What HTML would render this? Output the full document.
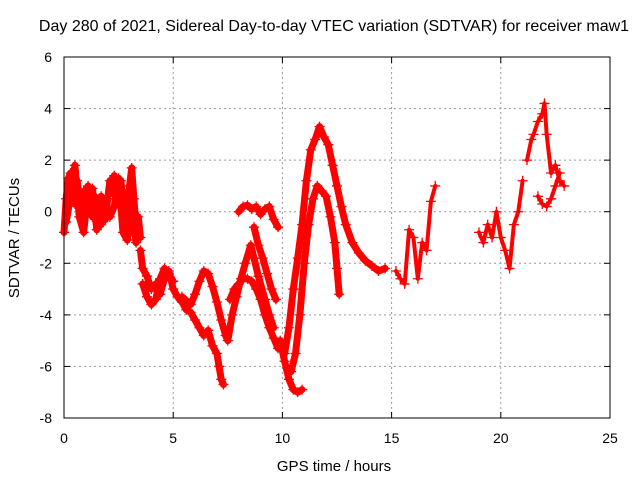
<!DOCTYPE html>
<html><head><meta charset="utf-8"><style>
html,body{margin:0;padding:0;background:#fff;}
svg{display:block;font-family:"Liberation Sans",sans-serif;}
</style></head><body>
<svg id="chart" width="640" height="480" viewBox="0 0 640 480">
<rect width="640" height="480" fill="#fff"/>
<text x="334" y="31" font-size="16" text-anchor="middle" fill="#000">Day 280 of 2021, Sidereal Day-to-day VTEC variation (SDTVAR) for receiver maw1</text>
<text x="334" y="471" font-size="15" text-anchor="middle">GPS time / hours</text>
<text transform="translate(19,238) rotate(-90)" font-size="15" text-anchor="middle">SDTVAR / TECUs</text>
<g id="grid"></g><g id="ticks"></g><g id="marks"></g>
<rect x="64" y="57" width="546" height="361" fill="none" stroke="#000" stroke-width="1"/>
</svg>
<script>
const xTicks=[0,5,10,15,20,25];
const yTicks=[-8,-6,-4,-2,0,2,4,6];
const s1t=[0,0.1,0.2,0.3,0.4,0.5,0.6,0.7,0.8,0.9,1.0,1.1,1.2,1.3,1.4,1.5,1.6,1.7,1.8,1.9,2.0,2.1,2.2,2.3,2.4,2.5,2.6,2.7,2.8,2.9,3.0,3.1,3.2,3.3,3.4,3.5];
const s1v=[-0.8,0.5,1.3,1.5,1.0,0.3,1.2,0.6,-0.3,0.8,0.2,1.0,0.4,-0.2,0.6,0,0.3,-0.5,0.2,-0.3,0.5,1.2,0.8,1.4,0.6,0.9,1.2,0.5,-0.3,0.3,1.0,1.7,0.5,-0.6,-0.2,-1.0];
const s1bt=[0.1,0.3,0.5,0.7,0.9,1.1,1.3,1.5,1.7,1.9,2.1,2.3,2.5,2.7,2.9,3.1,3.3];
const s1bv=[-0.4,0.6,1.8,-0.2,-0.8,0.8,0.9,-0.7,0.6,0,-0.2,0.2,1.3,-0.8,-1.1,0.2,-1.2];
const s2t=[3.5,3.6,3.8,4.0,4.2,4.4,4.6,4.8,5.0,5.2,5.4,5.6,5.8,6.0,6.2,6.4,6.6,6.8,7.0,7.1,7.2,7.3];
const s2v=[-1.5,-2.2,-2.5,-3.0,-2.8,-3.2,-2.6,-2.3,-3.0,-3.3,-3.5,-3.8,-3.9,-4.2,-4.5,-4.8,-4.6,-5.2,-5.5,-6.0,-6.5,-6.7];
const s2bt=[3.6,3.8,4.0,4.2,4.4,4.6,4.8,5.0];
const s2bv=[-2.8,-3.3,-3.6,-3.4,-2.6,-2.2,-2.4,-2.7];
const s3t=[5.4,5.8,6.0,6.2,6.4,6.6,6.8,7.0,7.2,7.4,7.5,7.7,7.9,8.1,8.3,8.55,8.7,8.9,9.2,9.4,9.6];
const s3v=[-3.3,-3.6,-3.2,-2.7,-2.3,-2.4,-2.9,-3.5,-4.2,-4.8,-5.0,-4.0,-3.3,-2.6,-2.0,-1.3,-1.8,-2.5,-3.4,-4.0,-4.5];
const s4t=[7.6,7.8,8.0,8.2,8.4,8.6,8.8,9.0,9.2,9.4,9.6,9.8];
const s4v=[-3.4,-3.0,-2.8,-2.6,-2.6,-2.7,-3.0,-3.4,-4.0,-4.5,-4.9,-5.3];
const s5t=[8.0,8.2,8.4,8.6,8.8,9.0,9.2,9.4,9.6,9.8];
const s5v=[0.0,0.2,0.25,0.1,0.2,-0.1,0.1,0.2,-0.3,-0.6];
const s6t=[8.7,8.9,9.1,9.3,9.5,9.7];
const s6v=[-0.6,-1.3,-1.8,-2.4,-3.0,-3.4];
const s7t=[9.9,10.1,10.3,10.5,10.7,10.9];
const s7v=[-5.0,-5.8,-6.5,-6.9,-7.0,-6.9];
const s8t=[10.1,10.3,10.5,10.7,10.9,11.1,11.3,11.5,11.7,11.9,12.1,12.3,12.5,12.7,12.9,13.2,13.5,13.8,14.1,14.4,14.7];
const s8v=[-5.5,-4.5,-3.0,-1.8,-0.5,1.2,2.4,2.8,3.3,2.9,2.6,1.8,1.0,0.2,-0.5,-1.2,-1.6,-1.9,-2.1,-2.3,-2.2];
const s9t=[10.4,10.6,10.8,11.0,11.2,11.4,11.6,11.8,12.0,12.2,12.4,12.5,12.6];
const s9v=[-6.2,-5.5,-4.0,-2.0,-0.5,0.5,1.0,0.8,0.6,-0.2,-1.2,-2.2,-3.2];
const s10t=[15.2,15.4,15.6,15.8,16.0,16.2,16.4,16.6,16.8,17.0];
const s10v=[-2.3,-2.6,-2.8,-0.7,-1.0,-2.6,-1.2,-1.5,0.4,1.0];
const s11t=[19.0,19.2,19.4,19.6,19.8,20.0,20.2,20.4,20.6,20.8,21.0];
const s11v=[-0.8,-1.2,-0.5,-1.0,0.0,-1.0,-1.5,-2.2,-0.5,0.0,1.2];
const s12t=[21.2,21.4,21.5,21.7,21.9,22.0,22.1,22.3,22.5,22.7,22.9];
const s12v=[2.0,2.8,3.0,3.5,3.8,4.2,3.0,1.5,1.8,1.2,1.0];
const s13t=[21.7,21.9,22.1,22.3,22.5,22.7];
const s13v=[0.6,0.3,0.2,0.5,1.0,1.5];
const series=[[s1t,s1v],[s1bt,s1bv],[s2t,s2v],[s2bt,s2bv],[s3t,s3v],[s4t,s4v],[s5t,s5v],[s6t,s6v],[s7t,s7v],[s8t,s8v],[s9t,s9v],[s10t,s10v],[s11t,s11v],[s12t,s12v],[s13t,s13v]];
const X=t=>64+t*546/25;
const Y=v=>57+(6-v)*361/14;
const NS='http://www.w3.org/2000/svg';
function mk(tag,attrs,parent){const e=document.createElementNS(NS,tag);for(const k in attrs)e.setAttribute(k,attrs[k]);parent.appendChild(e);return e;}
const grid=document.getElementById('grid'),ticks=document.getElementById('ticks'),marks=document.getElementById('marks');
xTicks.forEach(t=>{
 if(t>0&&t<25){const g=mk('line',{x1:X(t),x2:X(t),y1:57,y2:418,stroke:'#999','stroke-dasharray':'2,3'},grid);
 
 }
 mk('line',{x1:X(t),x2:X(t),y1:418,y2:412,stroke:'#000'},ticks);
 mk('line',{x1:X(t),x2:X(t),y1:57,y2:63,stroke:'#000'},ticks);
 const l=mk('text',{x:X(t),y:443,'font-size':14,'text-anchor':'middle'},ticks);l.textContent=t;
 
 
});
yTicks.forEach(v=>{
 if(v>-8&&v<6){const g=mk('line',{x1:64,x2:610,y1:Y(v),y2:Y(v),stroke:'#999','stroke-dasharray':'2,3'},grid);
 
 }
 mk('line',{x1:64,x2:70,y1:Y(v),y2:Y(v),stroke:'#000'},ticks);
 mk('line',{x1:610,x2:604,y1:Y(v),y2:Y(v),stroke:'#000'},ticks);
 const l=mk('text',{x:52,y:Y(v)+5,'font-size':14,'text-anchor':'end'},ticks);l.textContent=v;
 
 
});
series.forEach(([ts,vs],i)=>{
 const g=mk('g',{},marks);
 
 
 const gap=(i>=11)?0.5:1;
 const sw=(i>=11)?4:7;
 let d='';
 for(let k=0;k<ts.length;k++){
   if(k>0&&ts[k]-ts[k-1]<gap) d+='M'+X(ts[k-1])+' '+Y(vs[k-1])+'L'+X(ts[k])+' '+Y(vs[k]);
 }
 mk('path',{d:d,stroke:'#f00','stroke-width':sw,fill:'none','stroke-linecap':'round'},g);
 let p='';
 for(let k=0;k<ts.length;k++){const x=X(ts[k]),y=Y(vs[k]);p+=`M${x-5} ${y}h10M${x} ${y-5}v10`;}
 mk('path',{d:p,stroke:'#f00','stroke-width':1.3,fill:'none'},g);
});
</script>
</body></html>
